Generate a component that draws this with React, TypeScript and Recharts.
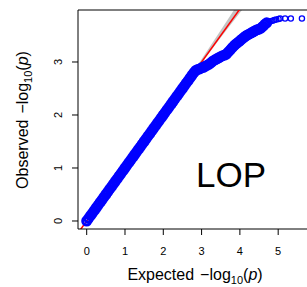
import React from "react"
import {
  ComposedChart,
  XAxis,
  YAxis,
  Scatter,
  Line,
  Area,
  ReferenceLine,
} from "recharts"

const FONT = '"Liberation Sans", Arial, Helvetica, sans-serif'

const xTicks = [0, 1, 2, 3, 4, 5]
const yTicks = [0, 1, 2, 3]

// dense part of the QQ cloud (expected vs observed -log10 p)
const expectedBulk = [
  0.0, 0.05, 0.1, 0.15, 0.2, 0.25, 0.3, 0.35, 0.4, 0.45,
  0.5, 0.55, 0.6, 0.65, 0.7, 0.75, 0.8, 0.85, 0.9, 0.95,
  1.0, 1.05, 1.1, 1.15, 1.2, 1.25, 1.3, 1.35, 1.4, 1.45,
  1.5, 1.55, 1.6, 1.65, 1.7, 1.75, 1.8, 1.85, 1.9, 1.95,
  2.0, 2.05, 2.1, 2.15, 2.2, 2.25, 2.3, 2.35, 2.4, 2.45,
  2.5, 2.55, 2.6, 2.65, 2.7, 2.75, 2.8, 2.85, 2.9, 2.95,
  3.0, 3.05, 3.1, 3.15, 3.2, 3.25, 3.3, 3.35, 3.4, 3.45,
  3.5, 3.55, 3.6, 3.65, 3.7, 3.75, 3.8, 3.85, 3.9, 3.95,
  4.0, 4.05, 4.1, 4.15, 4.2, 4.25, 4.3, 4.35, 4.4, 4.45,
  4.5, 4.55, 4.6, 4.65, 4.7,
]
const observedBulk = [
  0.0, 0.05, 0.1, 0.15, 0.2, 0.25, 0.3, 0.35, 0.4, 0.45,
  0.5, 0.55, 0.6, 0.65, 0.7, 0.75, 0.8, 0.85, 0.9, 0.95,
  1.0, 1.05, 1.1, 1.15, 1.2, 1.25, 1.3, 1.35, 1.4, 1.45,
  1.5, 1.55, 1.6, 1.65, 1.7, 1.75, 1.8, 1.85, 1.9, 1.95,
  2.0, 2.05, 2.1, 2.15, 2.2, 2.25, 2.3, 2.35, 2.4, 2.45,
  2.5, 2.55, 2.6, 2.65, 2.7, 2.75, 2.8, 2.84, 2.86, 2.87,
  2.89, 2.9, 2.92, 2.94, 2.96, 2.99, 3.02, 3.04, 3.06, 3.08,
  3.1, 3.12, 3.13, 3.15, 3.19, 3.23, 3.27, 3.31, 3.34, 3.37,
  3.4, 3.43, 3.46, 3.49, 3.51, 3.53, 3.55, 3.57, 3.59, 3.61,
  3.62, 3.64, 3.67, 3.71, 3.74,
]

// sparse top tail
const expectedTail = [4.75, 4.8, 4.85, 4.9, 4.95, 5.01, 5.05, 5.18, 5.33, 5.62]
const observedTail = [3.76, 3.77, 3.78, 3.79, 3.8, 3.81, 3.82, 3.82, 3.82, 3.82]

// grey confidence band around y = x
const bandX = [2.5, 3.0, 3.5, 4.0, 4.3]
const bandLow = [2.49, 2.98, 3.46, 3.93, 4.2]
const bandHigh = [2.52, 3.05, 3.6, 4.15, 4.5]

const diagonal = [-0.3, 4.3]

const bulk = expectedBulk.map((x, i) => ({ x, y: observedBulk[i] }))
const tail = expectedTail.map((x, i) => ({ x, y: observedTail[i] }))
const band = bandX.map((x, i) => ({ x, ci: [bandLow[i], bandHigh[i]] }))
const refLine = diagonal.map((v) => ({ x: v, y: v }))

const X_MIN = -0.227
const X_MAX = 6.614
const Y_MIN = -0.151
const Y_MAX = 3.981

function XTick({ x, y, payload }: any) {
  return (
    <text x={x} y={y + 18} textAnchor="middle" fontSize={11} fontFamily={FONT} fill="#000">
      {payload.value}
    </text>
  )
}

function YTick({ x, y, payload }: any) {
  return (
    <text
      transform={`translate(${x - 8},${y}) rotate(-90)`}
      textAnchor="middle"
      fontSize={11}
      fontFamily={FONT}
      fill="#000"
    >
      {payload.value}
    </text>
  )
}

const bigDot = (props: any) => (
  <circle cx={props.cx} cy={props.cy} r={4} fill="none" stroke="#0000ff" strokeWidth={3} />
)
const smallDot = (props: any) => (
  <circle cx={props.cx} cy={props.cy} r={2.6} fill="none" stroke="#0000ff" strokeWidth={1.3} />
)

function AxisTitle({ label }: { label: string }) {
  return (
    <>
      {label}
      <tspan dx={6}>−log</tspan>
      <tspan fontSize={11} dy={4}>10</tspan>
      <tspan dy={-4}>(</tspan>
      <tspan fontStyle="italic">p</tspan>
      <tspan>)</tspan>
    </>
  )
}

export default function App() {
  return (
    <div
      style={{
        position: "absolute",
        left: 0,
        top: 0,
        width: 307,
        height: 287,
        overflow: "hidden",
        background: "#fff",
      }}
    >
      <ComposedChart width={340} height={287} margin={{ top: 10, right: 0, bottom: 0, left: 0 }}>
        <XAxis
          type="number"
          dataKey="x"
          domain={[X_MIN, X_MAX]}
          ticks={xTicks}
          allowDataOverflow
          height={58}
          stroke="#000"
          tickSize={6}
          tick={<XTick />}
        />
        <YAxis
          type="number"
          dataKey="y"
          domain={[Y_MIN, Y_MAX]}
          ticks={yTicks}
          allowDataOverflow
          width={78}
          stroke="#000"
          tickSize={6}
          tick={<YTick />}
        />
        <ReferenceLine y={Y_MAX} stroke="#000" />
        <Area
          data={band}
          dataKey="ci"
          type="linear"
          stroke="none"
          fill="#c4c4c4"
          fillOpacity={1}
          isAnimationActive={false}
        />
        <Line
          data={refLine}
          dataKey="y"
          stroke="#ff0000"
          strokeWidth={1.5}
          dot={false}
          isAnimationActive={false}
        />
        <Scatter data={bulk} dataKey="y" shape={bigDot} isAnimationActive={false} />
        <Scatter data={tail} dataKey="y" shape={smallDot} isAnimationActive={false} />
      </ComposedChart>
      <svg
        width={307}
        height={287}
        style={{ position: "absolute", left: 0, top: 0, pointerEvents: "none" }}
      >
        <text x={195} y={280} textAnchor="middle" fontSize={16} fontFamily={FONT} fill="#000">
          <AxisTitle label="Expected" />
        </text>
        <text
          transform="translate(28,120) rotate(-90)"
          textAnchor="middle"
          fontSize={16}
          fontFamily={FONT}
          fill="#000"
        >
          <AxisTitle label="Observed" />
        </text>
        <text x={231} y={187} textAnchor="middle" fontSize={35} fontFamily={FONT} fill="#000">
          LOP
        </text>
      </svg>
    </div>
  )
}
